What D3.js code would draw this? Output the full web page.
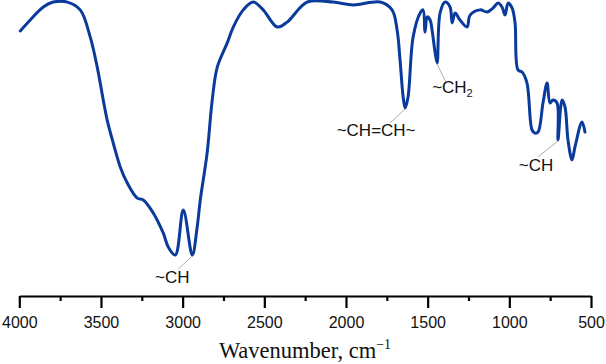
<!DOCTYPE html>
<html><head><meta charset="utf-8">
<script src="https://cdn.jsdelivr.net/npm/d3@7"></script>
<style>html,body{margin:0;padding:0;background:#fff;}svg{display:block;}</style>
</head><body>
<script>
const wavenumbers = [3994,3933,3853,3792,3706,3627,3566,3523,3486,3462,3425,3382,3339,3278,3241,3180,3119,3088,3045,2996,2941,2911,2892,2850,2819,2788,2727,2690,2629,2568,2507,2421,2360,2238,2079,1956,1791,1718,1687,1669,1650,1638,1620,1589,1546,1528,1516,1503,1485,1473,1454,1442,1424,1393,1363,1350,1332,1302,1259,1240,1179,1136,1100,1069,1045,1026,1008,983,965,947,922,892,861,843,824,794,769,751,733,708,702,677,659,641,616,598,555,537];
const transmittance = [88.1,92.3,97.3,99.2,99.2,96.2,85.8,74.2,61.5,53.8,45.0,35.8,29.6,23.8,23.1,18.1,10.4,5.0,1.9,19.2,1.9,12.7,23.1,41.2,61.5,74.2,83.5,89.6,96.2,99.2,96.2,89.6,91.5,99.2,99.2,98.1,99.2,96.2,88.5,76.9,62.7,58.5,62.7,85.8,95.0,96.2,87.7,93.5,92.3,88.5,79.6,75.8,95.0,99.2,97.3,91.2,95.0,92.3,89.6,94.2,96.2,95.4,96.9,98.8,97.3,94.2,98.8,96.9,91.2,73.1,72.3,68.1,50.0,48.8,49.2,60.4,68.1,60.4,61.5,60.4,46.2,61.5,58.8,46.2,38.5,43.5,53.1,49.2];
const majorTicks = [4000,3500,3000,2500,2000,1500,1000,500];
const minorTicks = [3750,3250,2750,2250,1750,1250,750];
const annLabels = ["~CH","~CH=CH~","~CH","~CH"];
const annSubs = ["","","2",""];
const annWn = [2941,1638,1442,702];
const annT = [1.9,58.5,75.8,46.2];

const W = 606, H = 364;
const svg = d3.select("body").append("svg").attr("width", W).attr("height", H);
const x = d3.scaleLinear().domain([4000, 500]).range([19.3, 591]);
const y = d3.scaleLinear().domain([0, 100]).range([260, 0]);
const axisY = 296;

const data = wavenumbers.map((w, i) => ({w, t: transmittance[i]}));
const line = d3.line().x(d => x(d.w)).y(d => y(d.t)).curve(d3.curveCatmullRom.alpha(0.5));
svg.append("path").datum(data).attr("d", line)
  .attr("fill", "none").attr("stroke", "#0a3a9c").attr("stroke-width", 3)
  .attr("stroke-linejoin", "round").attr("stroke-linecap", "round");

// annotations
const offs = [
  {lx:-14, ly:14, tx:-20, ty:28, anchor:"middle"},
  {lx:-15, ly:15, tx:-29, ty:28, anchor:"middle"},
  {lx:9, ly:20, tx:-5, ty:30, anchor:"start"},
  {lx:-20, ly:17, tx:-22, ty:31, anchor:"middle"}
];
annLabels.forEach((lab, i) => {
  const px = x(annWn[i]), py = y(annT[i]), o = offs[i];
  svg.append("line").attr("x1", px).attr("y1", py + 1).attr("x2", px + o.lx).attr("y2", py + o.ly)
    .attr("stroke", "#999").attr("stroke-width", 0.8);
  const t = svg.append("text").attr("x", px + o.tx).attr("y", py + o.ty)
    .attr("text-anchor", o.anchor).attr("font-family", "Liberation Sans, Arial, sans-serif")
    .attr("font-size", 17).attr("fill", "#111").text(lab);
  if (annSubs[i]) t.append("tspan").attr("font-size", 11).attr("dy", 4).text(annSubs[i]);
});

// axis
const gx = svg.append("g").attr("transform", `translate(0,${axisY})`)
  .call(d3.axisBottom(x).tickValues(majorTicks).tickSize(12).tickSizeOuter(0).tickPadding(9).tickFormat(d3.format("d")));
gx.select(".domain").attr("stroke", "#000").attr("stroke-width", 2.2);
gx.selectAll(".tick line").attr("stroke", "#000").attr("stroke-width", 2.2);
gx.selectAll(".tick text").attr("font-family", "Liberation Sans, Arial, sans-serif").attr("font-size", 16).attr("fill", "#111");
const gm = svg.append("g").attr("transform", `translate(0,${axisY})`)
  .call(d3.axisBottom(x).tickValues(minorTicks).tickSize(5).tickFormat(""));
gm.select(".domain").remove();
gm.selectAll(".tick line").attr("stroke", "#000").attr("stroke-width", 2.2);

const title = svg.append("text").attr("x", 305).attr("y", 358).attr("text-anchor", "middle")
  .attr("font-family", "Liberation Serif, Times New Roman, serif").attr("font-size", 22.5).attr("fill", "#111")
  .text("Wavenumber, cm");
title.append("tspan").attr("font-size", 14).attr("dy", -9).text("\u22121");
</script>
</body></html>
